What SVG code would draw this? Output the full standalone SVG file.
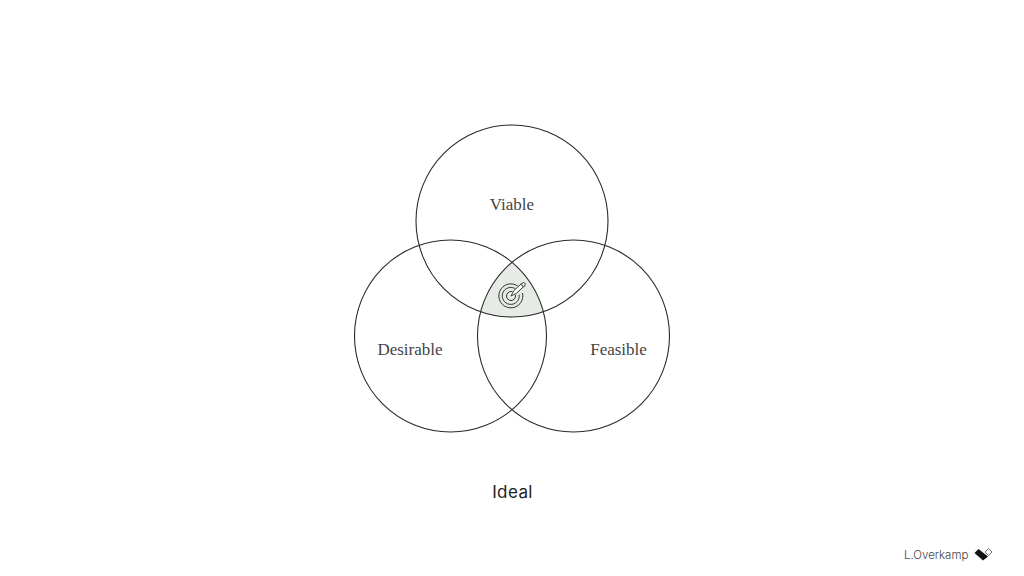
<svg xmlns="http://www.w3.org/2000/svg" width="1024" height="576" viewBox="0 0 1024 576">
<style>
.c{fill:none;stroke:#2a2a2a;stroke-width:1.1}
.l{font-family:"Liberation Serif",serif;font-size:17px;fill:#444;text-anchor:middle}
.i{fill:none;stroke:#333;stroke-width:1}
</style>
<rect width="1024" height="576" fill="#fff"/>
<g id="overlap"><path d="M512 262.300A96 96 0 0 1 543.400 311.700A96 96 0 0 1 480.600 311.700A96 96 0 0 1 512 262.300Z" fill="#e6ebe5"/></g>
<g id="connectors"/>
<g id="viable"><circle class="c" cx="512" cy="221" r="96"/><text class="l" x="512" y="210">Viable</text></g>
<g id="desirable"><circle class="c" cx="450.500" cy="336" r="96"/><text class="l" x="410" y="354.500">Desirable</text></g>
<g id="feasible"><circle class="c" cx="573.500" cy="336" r="96"/><text class="l" x="618.500" y="354.500">Feasible</text></g>
<g id="target">
<path class="i" d="M518.500 286.600A12 12 0 1 0 522.500 293"/>
<path class="i" d="M516 289.200A8.500 8.500 0 1 0 519.200 294.800"/>
<circle class="i" cx="511" cy="296" r="4.500"/>
<path d="M511 296L521 286" stroke="#fff" stroke-width="4.500"/>
<path class="i" d="M511 296L513.700 290.800L521.500 283.500L524.200 286.200L516.200 293.500Z" fill="#fff"/>
<circle cx="523.500" cy="284.500" r="1.800" fill="#fff" stroke="#333" stroke-width="1"/>
</g>
<g id="title"><text x="512.500" y="498" text-anchor="middle" font-family="Inter,sans-serif" font-size="17px" letter-spacing=".4" fill="#222">Ideal</text></g>
<g id="credit"><text x="904" y="559" font-family="Inter,sans-serif" font-size="11.500px" font-weight="300" fill="#444">L.Overkamp</text>
<path d="M974.500 553L978.500 549L988 556.500L983 560.500Z" fill="#111"/>
<path d="M985 552L988.500 548.500L992 552L988.500 555.500Z" fill="#fff" stroke="#444" stroke-width=".8"/></g>
</svg>
